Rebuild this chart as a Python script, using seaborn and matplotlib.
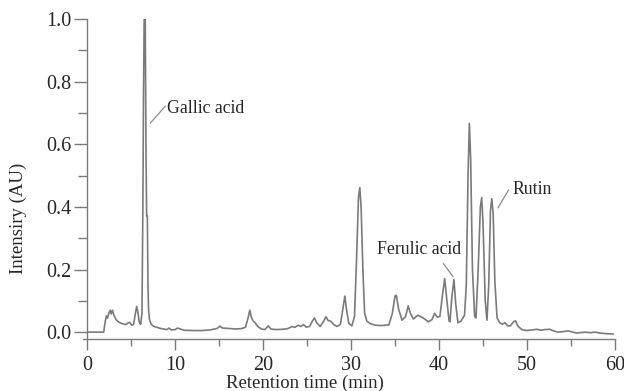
import numpy as np
import pandas as pd
import seaborn as sns
import matplotlib.pyplot as plt

# chromatogram trace (retention time in min, intensity in AU)
time_min = [
    0.0, 1.0, 1.9, 2.05, 2.2, 2.35, 2.5, 2.65, 2.75, 2.9, 3.05, 3.3, 3.6, 4.0, 4.4,
    4.7, 4.85, 5.1, 5.3, 5.5, 5.65, 5.8, 5.95, 6.1, 6.25, 6.35, 6.42, 6.5, 6.62,
    6.7, 6.78, 6.86, 6.93, 7.0, 7.1, 7.3, 7.6, 7.9, 8.3, 8.7, 9.1, 9.3, 9.6, 10.0,
    10.3, 10.6, 11.0, 12.0, 13.0, 14.0, 14.8, 15.1, 15.4, 16.0, 16.8, 17.5, 18.0,
    18.3, 18.5, 18.7, 18.9, 19.1, 19.4, 19.8, 20.2, 20.6, 20.9, 21.5, 22.2, 22.8,
    23.3, 23.6, 24.0, 24.3, 24.6, 24.9, 25.3, 25.6, 25.85, 26.1, 26.5, 26.9, 27.15,
    27.4, 27.7, 28.0, 28.4, 28.8, 29.05, 29.3, 29.5, 29.75, 30.1, 30.4, 30.65,
    30.85, 31.0, 31.15, 31.35, 31.55, 31.8, 32.2, 32.8, 33.5, 34.3, 34.7, 35.0,
    35.15, 35.4, 35.8, 36.2, 36.5, 36.75, 37.1, 37.6, 38.2, 38.8, 39.2, 39.5, 39.8,
    40.1, 40.4, 40.65, 40.9, 41.15, 41.25, 41.45, 41.7, 41.9, 42.15, 42.5, 42.9,
    43.1, 43.3, 43.45, 43.6, 43.8, 44.05, 44.2, 44.45, 44.7, 44.85, 45.0, 45.25,
    45.45, 45.65, 45.85, 46.0, 46.15, 46.35, 46.6, 46.9, 47.2, 47.5, 47.8, 48.1,
    48.5, 48.7, 48.95, 49.4, 50.0, 50.6, 51.1, 51.6, 52.0, 52.6, 53.0, 53.5, 54.2,
    54.7, 55.2, 55.6, 56.2, 56.6, 57.2, 57.7, 58.3, 59.0, 59.8,
]
intensity_au = [
    0.0, 0.0, 0.0, 0.03, 0.052, 0.045, 0.062, 0.07, 0.058, 0.07, 0.055, 0.04, 0.032,
    0.027, 0.024, 0.03, 0.031, 0.022, 0.025, 0.06, 0.082, 0.06, 0.03, 0.025, 0.06,
    0.4, 0.75, 1.0, 1.0, 0.6, 0.37, 0.37, 0.15, 0.07, 0.04, 0.025, 0.018, 0.016,
    0.012, 0.01, 0.008, 0.013, 0.007, 0.008, 0.013, 0.01, 0.006, 0.005, 0.005,
    0.007, 0.012, 0.019, 0.013, 0.012, 0.01, 0.011, 0.015, 0.045, 0.07, 0.045,
    0.035, 0.03, 0.018, 0.01, 0.008, 0.02, 0.01, 0.008, 0.009, 0.011, 0.018, 0.015,
    0.022, 0.018, 0.024, 0.016, 0.018, 0.035, 0.045, 0.03, 0.018, 0.035, 0.049,
    0.037, 0.035, 0.025, 0.018, 0.025, 0.07, 0.115, 0.07, 0.028, 0.02, 0.05, 0.25,
    0.43, 0.462, 0.4, 0.2, 0.06, 0.035, 0.027, 0.022, 0.021, 0.023, 0.06, 0.115,
    0.118, 0.075, 0.038, 0.05, 0.084, 0.06, 0.042, 0.054, 0.045, 0.033, 0.04, 0.06,
    0.048, 0.05, 0.12, 0.171, 0.1, 0.035, 0.033, 0.11, 0.168, 0.09, 0.03, 0.035,
    0.054, 0.15, 0.5, 0.667, 0.55, 0.2, 0.05, 0.045, 0.2, 0.4, 0.43, 0.35, 0.1,
    0.038, 0.15, 0.39, 0.426, 0.38, 0.16, 0.045, 0.03, 0.025, 0.03, 0.02, 0.02,
    0.034, 0.036, 0.02, 0.008, 0.005, 0.007, 0.009, 0.006, 0.008, 0.009, 0.004,
    0.0, 0.002, 0.004, 0.0, -0.003, -0.001, 0.0, -0.002, 0.0, -0.003, -0.005, -0.006,
]

# labelled compounds: name, text position, leader line (tail -> head)
peak_names = ["Gallic acid", "Ferulic acid", "Rutin"]
label_pos = [(9.1, 0.716), (33.0, 0.265), (48.3, 0.456)]
leader_from = [(7.2, 0.668), (41.6, 0.177), (46.7, 0.397)]
leader_to = [(8.9, 0.722), (40.5, 0.219), (47.9, 0.454)]

df = pd.DataFrame({"time": time_min, "intensity": intensity_au})

sns.set_style("ticks")
plt.rcParams["font.family"] = ["Liberation Serif", "DejaVu Serif"]

fig = plt.figure(figsize=(6.24, 3.91), dpi=100)
ax = fig.add_axes([0.1394, 0.133, 0.8462, 0.818])

sns.lineplot(data=df, x="time", y="intensity", ax=ax, color="#7a7a7a",
             linewidth=1.2, sort=False)

for name, pos, a, b in zip(peak_names, label_pos, leader_from, leader_to):
    ax.annotate("", xy=b, xytext=a,
                arrowprops=dict(arrowstyle="-", color="#8a8a8a", lw=0.9,
                                shrinkA=0, shrinkB=0))
    ax.text(pos[0], pos[1], name, ha="left", va="center", fontsize=12.8)

ax.set_xlim(0, 60)
ax.set_ylim(-0.022, 1.0)
ax.set_xticks(np.arange(0, 61, 10))
ax.set_xticks(np.arange(5, 60, 10), minor=True)
ax.set_yticks(np.arange(0, 1.01, 0.2))
ax.set_yticks(np.arange(0.1, 1.0, 0.2), minor=True)
ax.set_yticklabels([f"{v:.1f}" for v in np.arange(0, 1.01, 0.2)])

ax.tick_params(axis="both", which="both", width=1, color="#7a7a7a")
ax.tick_params(axis="x", which="major", labelsize=14.5, length=8, pad=4)
ax.tick_params(axis="x", which="minor", length=5)
ax.tick_params(axis="y", which="major", labelsize=14.5, length=9.5, pad=1.5)
ax.tick_params(axis="y", which="minor", length=6.5)

sns.despine(ax=ax)
for side in ["left", "bottom"]:
    ax.spines[side].set_color("#7a7a7a")
    ax.spines[side].set_linewidth(1)
ax.spines["bottom"].set_bounds(-0.45, 60)

ax.set_xlabel("Retention time (min)", fontsize=13.5)
ax.set_ylabel("Intensiry (AU)", fontsize=13.5)
ax.xaxis.set_label_coords(0.413, -0.112)
ax.yaxis.set_label_coords(-0.114, 0.378)

fig.savefig("out.png", dpi=100)
